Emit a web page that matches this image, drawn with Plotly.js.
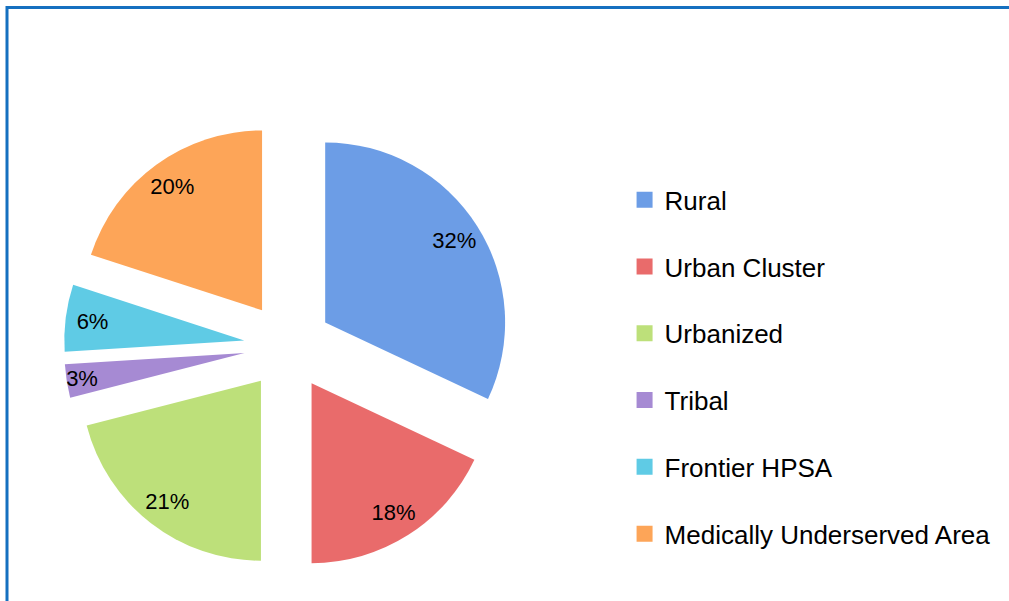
<!DOCTYPE html>
<html>
<head>
<meta charset="utf-8">
<script src="https://cdn.plot.ly/plotly-3.0.1.min.js"></script>
<style>html,body{margin:0;padding:0;background:#fff;}#chart{width:1009px;height:601px;}</style>
</head>
<body>
<div id="chart"></div>
<script>
var categories = ["Rural", "Urban Cluster", "Urbanized", "Tribal", "Frontier HPSA", "Medically Underserved Area"];
var shares = [32, 18, 21, 3, 6, 20];
var colors = ["#6C9DE6", "#E96B6B", "#BDE07A", "#A68AD3", "#5FCBE5", "#FDA558"];

var pieDomain = {x: [0.0634, 0.5074], y: [0.0516, 0.797]};
var labelFont = {family: "Liberation Sans, Arial, sans-serif", size: 22, color: "#000"};

var traces = [{
  type: "pie",
  labels: categories,
  values: shares,
  sort: false,
  direction: "clockwise",
  rotation: 0,
  pull: 0.245,
  marker: {colors: colors, line: {width: 0}},
  textinfo: "none",
  hoverinfo: "label+percent",
  showlegend: false,
  domain: pieDomain
}, {
  // transparent ring on top that carries the percentage labels near the rim
  type: "pie",
  labels: categories,
  values: shares,
  sort: false,
  direction: "clockwise",
  rotation: 0,
  pull: 0.245,
  hole: 0.7,
  marker: {colors: categories.map(function () { return "rgba(0,0,0,0)"; }), line: {width: 0}},
  textinfo: "percent",
  textposition: "inside",
  insidetextorientation: "horizontal",
  textfont: labelFont,
  hoverinfo: "skip",
  showlegend: false,
  domain: pieDomain
}];

categories.forEach(function (c, i) {
  traces.push({
    type: "scatter",
    mode: "markers",
    x: [null], y: [null],
    name: c,
    legendgroup: "g" + i,
    marker: {symbol: "square", size: 16, color: colors[i]},
    showlegend: true,
    hoverinfo: "skip"
  });
});

var layout = {
  width: 1009, height: 601,
  margin: {l: 0, r: 0, t: 0, b: 0},
  paper_bgcolor: "#fff", plot_bgcolor: "#fff",
  xaxis: {visible: false}, yaxis: {visible: false},
  showlegend: true,
  uniformtext: {minsize: 22, mode: "show"},
  legend: {
    x: 0.619, xanchor: "left", y: 0.7067, yanchor: "top",
    font: {family: "Liberation Sans, Arial, sans-serif", size: 26, color: "#000"},
    tracegroupgap: 30, bgcolor: "rgba(0,0,0,0)"
  },
  shapes: [{
    type: "rect", xref: "paper", yref: "paper",
    x0: 7 / 1009, x1: 1.2, y0: -0.2, y1: 1 - 7.5 / 601,
    line: {color: "#1570C0", width: 3}, fillcolor: "rgba(0,0,0,0)"
  }]
};

Plotly.newPlot("chart", traces, layout, {displayModeBar: false, staticPlot: true});
</script>
</body>
</html>
